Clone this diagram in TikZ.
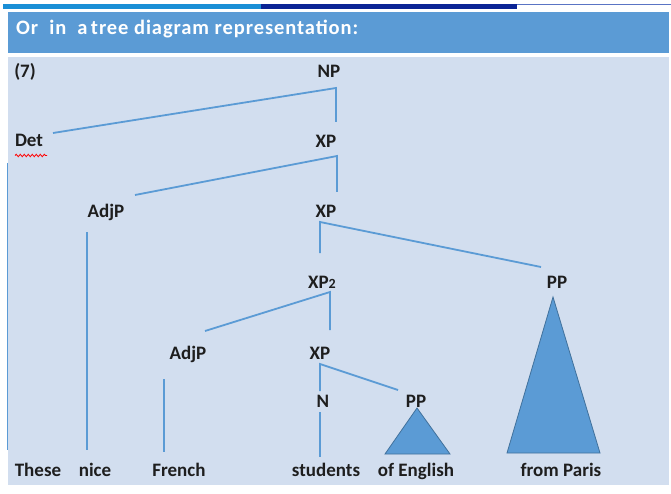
\documentclass[tikz,border=0pt]{standalone}
\usepackage{fontspec}
\setmainfont{Carlito}
\usetikzlibrary{decorations.pathmorphing}
\definecolor{treeblue}{HTML}{5B9BD5}
\definecolor{treeedge}{HTML}{41719C}
\definecolor{panelblue}{HTML}{D2DEEF}
\definecolor{inkgrey}{HTML}{1E1E1E}
\definecolor{stripelight}{HTML}{1A8FD6}
\definecolor{stripedark}{HTML}{0B2495}
\definecolor{stripethin}{HTML}{5A74C4}
\begin{document}
\begin{tikzpicture}[x=1pt, y=-1pt,
		lbl/.style = {anchor=base, inner sep=0pt, text=inkgrey, font=\bfseries\fontsize{19}{19}\selectfont},
		branch/.style = {draw=treeblue, line width=1.8pt},
		tri/.style = {fill=treeblue, draw=treeedge, line width=0.8pt}]
		\useasboundingbox (0,0) rectangle (671,494);
		\fill[white] (0,0) rectangle (671,494);
		% slide strip, header and panel
		\fill[stripelight] (3,4) rectangle (261,9);
		\fill[stripedark] (261,4) rectangle (517,9);
		\draw[stripethin, line width=1pt] (517,4.5) -- (671,4.5);
		\fill[treeblue] (8,12.5) rectangle (669,53.5);
		\fill[panelblue] (8,57) rectangle (669,485);
		\node[anchor=base west, inner sep=0pt, text=white, font=\bfseries\fontsize{20.5}{20.5}\selectfont\addfontfeature{LetterSpace=4.5}] (title) at (16,35) {Or\ \ in\ \ a\,tree diagram representation:};
		% labels
		\node[lbl] (ex) at (25,78) {(7)};
		\node[lbl] (np) at (329,78) {NP};
		\node[lbl] (det) at (29,147) {Det};
		\node[lbl] (xp-a) at (326,148) {XP};
		\node[lbl] (adjp-a) at (106,218) {AdjP};
		\node[lbl] (xp-b) at (326,218) {XP};
		\node[lbl] (xp-ii) at (322,288) {XP{\fontsize{14}{14}\selectfont 2}};
		\node[lbl] (pp-a) at (557,288) {PP};
		\node[lbl] (adjp-b) at (188,359) {AdjP};
		\node[lbl] (xp-c) at (320,359) {XP};
		\node[lbl] (n) at (323,407) {N};
		\node[lbl] (pp-b) at (416,407) {PP};
		\node[lbl] (these) at (38,476) {These};
		\node[lbl] (nice) at (95,476) {nice};
		\node[lbl] (french) at (179,476) {French};
		\node[lbl] (students) at (326,476) {students};
		\node[lbl] (ofenglish) at (416,476) {of English};
		\node[lbl] (fromparis) at (561,476) {from Paris};
		\draw[red, line width=0.8pt, decorate, decoration={snake, amplitude=1.2pt, segment length=4pt}] (15,155.5) -- (47,155.5);
		% branch ends
		\coordinate (np-dn) at (336,88);
		\coordinate (det-up) at (53,133);
		\coordinate (xp-a-up) at (336,122);
		\coordinate (xp-a-dn) at (337,156);
		\coordinate (adjp-a-up) at (135,195);
		\coordinate (xp-b-up) at (337,192);
		\coordinate (xp-b-dn) at (320,222);
		\coordinate (xp-ii-up) at (320,253);
		\coordinate (pp-a-up) at (541,267);
		\coordinate (xp-ii-dn) at (330,292);
		\coordinate (adjp-b-up) at (205,331);
		\coordinate (xp-c-up) at (330,330);
		\coordinate (xp-c-dn) at (320,364);
		\coordinate (n-up) at (320,391);
		\coordinate (pp-b-up) at (398,390);
		\coordinate (det-dn) at (7.5,163);
		\coordinate (these-up) at (7.5,450);
		\coordinate (adjp-a-dn) at (87,232);
		\coordinate (nice-up) at (87,450);
		\coordinate (adjp-b-dn) at (164,379);
		\coordinate (french-up) at (164,452);
		\coordinate (n-dn) at (320,412);
		\coordinate (students-up) at (320,457);
		\draw[branch] (det-up) -- (np-dn) -- (xp-a-up);
		\draw[branch] (adjp-a-up) -- (xp-a-dn) -- (xp-b-up);
		\draw[branch] (xp-ii-up) -- (xp-b-dn) -- (pp-a-up);
		\draw[branch] (adjp-b-up) -- (xp-ii-dn) -- (xp-c-up);
		\draw[branch] (n-up) -- (xp-c-dn) -- (pp-b-up);
		\draw[branch] (det-dn) -- (these-up);
		\draw[branch] (adjp-a-dn) -- (nice-up);
		\draw[branch] (adjp-b-dn) -- (french-up);
		\draw[branch] (n-dn) -- (students-up);
		% roofs over the two PPs
		\draw[tri] (417,408) -- (450,454) -- (385,454) -- cycle;
		\draw[tri] (553,297) -- (600,453) -- (507,453) -- cycle;
	\end{tikzpicture}
\end{document}
